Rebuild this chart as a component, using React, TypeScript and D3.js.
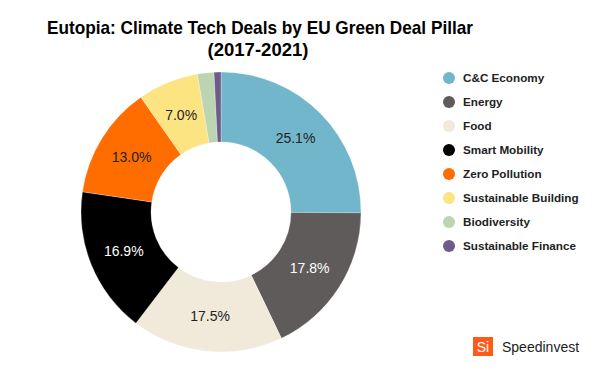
import { useRef, useEffect } from 'react';
import * as d3 from 'd3';

const categories = [
  'C&C Economy',
  'Energy',
  'Food',
  'Smart Mobility',
  'Zero Pollution',
  'Sustainable Building',
  'Biodiversity',
  'Sustainable Finance',
];
const shares = [25.1, 17.8, 17.5, 16.9, 13.0, 7.0, 1.9, 0.8];
const palette = ['#72b6cc', '#5f5b5a', '#f1eadb', '#000000', '#ff6d00', '#fde482', '#bcd4b1', '#6e5b8b'];
const labelColors = ['#222', '#fff', '#222', '#fff', '#222', '#222', '#222', '#222'];

const width = 600;
const height = 370;
const cx = 221;
const cy = 212;
const outer = 140;
const inner = 70;

const Donut = () => {
  const ref = useRef<SVGSVGElement>(null);

  useEffect(() => {
    const svg = d3.select(ref.current);
    svg.selectAll('*').remove();

    const data = categories.map((c, i) => ({ name: c, value: shares[i] }));
    const color = d3.scaleOrdinal<string, string>().domain(categories).range(palette);

    const pie = d3
      .pie<{ name: string; value: number }>()
      .sort(null)
      .value((d) => d.value);
    const arc = d3
      .arc<d3.PieArcDatum<{ name: string; value: number }>>()
      .innerRadius(inner)
      .outerRadius(outer);

    const g = svg.append('g').attr('transform', `translate(${cx}, ${cy})`);
    const arcs = pie(data);

    g.selectAll('path')
      .data(arcs)
      .enter()
      .append('path')
      .attr('d', arc)
      .attr('fill', (d) => color(d.data.name))
      .attr('stroke', 'rgba(255,255,255,0.5)')
      .attr('stroke-width', 0.5);

    g.selectAll('text.pct')
      .data(arcs.filter((d) => d.data.value >= 5))
      .enter()
      .append('text')
      .attr('class', 'pct')
      .attr('transform', (d) => `translate(${arc.centroid(d)})`)
      .attr('text-anchor', 'middle')
      .attr('dy', '0.35em')
      .style('font-family', '"Liberation Sans", Arial, sans-serif')
      .style('font-size', '14px')
      .attr('fill', (d) => labelColors[d.index])
      .text((d) => `${d.data.value.toFixed(1)}%`);

    // title
    const title = svg
      .append('text')
      .attr('text-anchor', 'middle')
      .style('font-family', '"Liberation Sans", Arial, sans-serif')
      .style('font-weight', 'bold')
      .style('font-size', '19px')
      .attr('fill', '#000');
    title
      .append('tspan')
      .attr('x', 260)
      .attr('y', 34)
      .attr('textLength', 426)
      .attr('lengthAdjust', 'spacingAndGlyphs')
      .text('Eutopia: Climate Tech Deals by EU Green Deal Pillar');
    title
      .append('tspan')
      .attr('x', 258)
      .attr('y', 56)
      .attr('textLength', 101)
      .attr('lengthAdjust', 'spacingAndGlyphs')
      .text('(2017-2021)');

    // legend
    const legend = svg
      .append('g')
      .selectAll('g')
      .data(categories)
      .enter()
      .append('g')
      .attr('transform', (d, i) => `translate(449, ${78 + i * 24})`);

    legend.append('circle').attr('r', 6).attr('fill', (d) => color(d));

    legend
      .append('text')
      .attr('x', 14)
      .attr('dy', '0.36em')
      .style('font-family', '"Liberation Sans", Arial, sans-serif')
      .style('font-weight', 'bold')
      .style('font-size', '11.7px')
      .attr('fill', '#222')
      .text((d) => d);

    // logo
    svg.append('rect').attr('x', 473).attr('y', 337).attr('width', 20).attr('height', 19).attr('fill', '#ff5a1a');
    svg
      .append('text')
      .attr('x', 483)
      .attr('y', 351.5)
      .attr('text-anchor', 'middle')
      .style('font-family', '"Liberation Sans", Arial, sans-serif')
      .style('font-size', '14px')
      .attr('fill', '#fff')
      .text('Si');
    svg
      .append('text')
      .attr('x', 502)
      .attr('y', 352)
      .style('font-family', '"Liberation Sans", Arial, sans-serif')
      .style('font-size', '14px')
      .attr('fill', '#222')
      .text('Speedinvest');
  }, []);

  return <svg ref={ref} width={width} height={height} style={{ display: 'block' }}></svg>;
};

export default function App() {
  return (
    <div style={{ margin: -8, background: '#fff' }}>
      <Donut />
    </div>
  );
}
